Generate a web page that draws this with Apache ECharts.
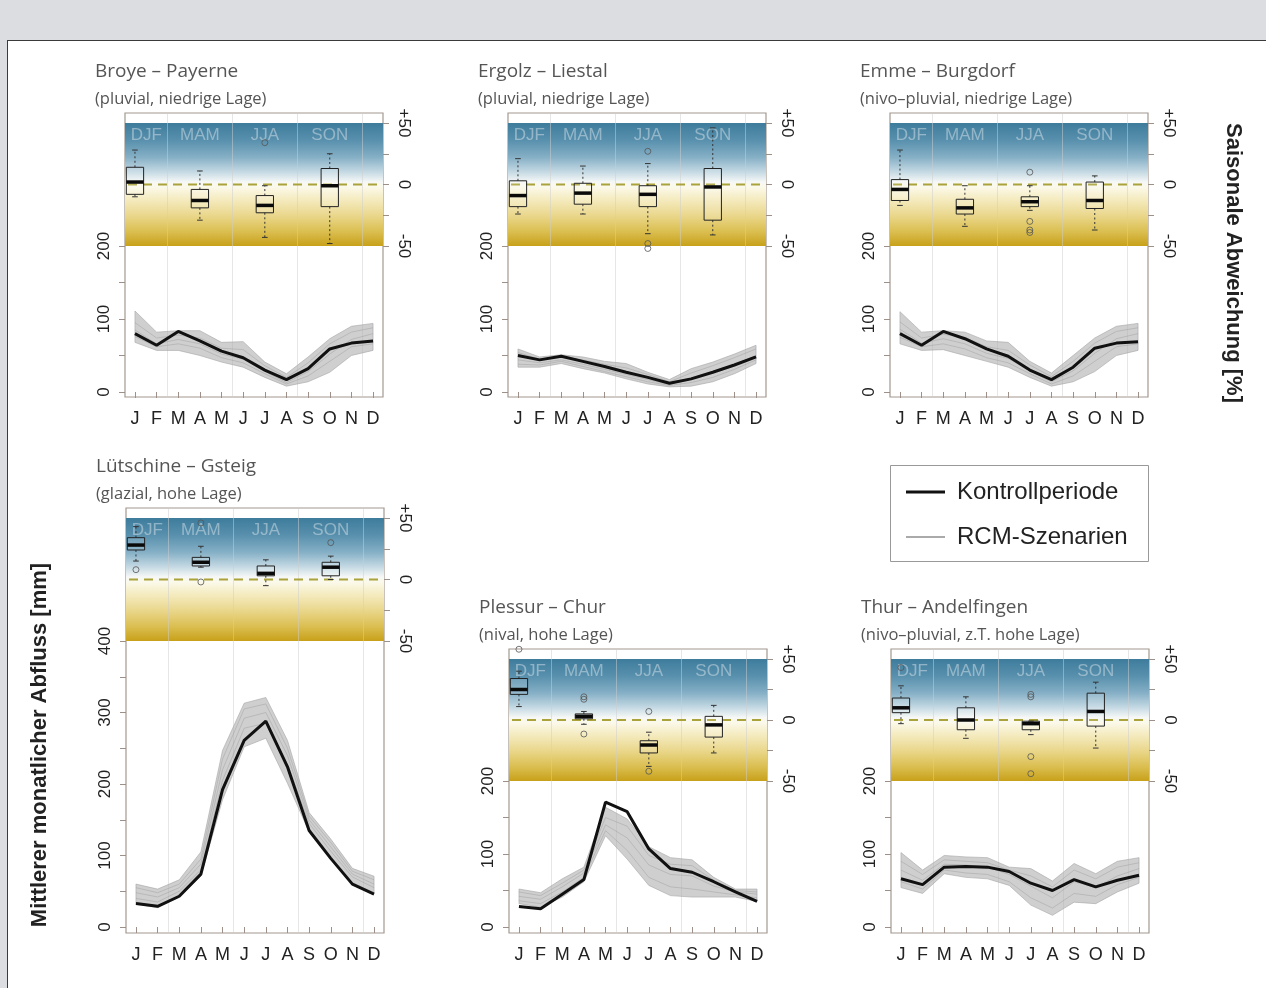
<!DOCTYPE html>
<html><head><meta charset="utf-8">
<script src="https://cdn.jsdelivr.net/npm/echarts@6/dist/echarts.min.js"></script>
<style>
html,body{margin:0;padding:0;background:#dcdde0;width:1266px;height:988px;overflow:hidden;}
#panel{position:absolute;left:7px;top:40px;width:1265px;height:950px;background:#fff;border-left:1.5px solid #3a3a3a;border-top:1.5px solid #3a3a3a;}
#chart{position:absolute;left:0;top:0;width:1266px;height:988px;}
</style></head><body><div id="panel"></div><div id="chart"></div>
<script>
// ---------- categories / ticks ----------
const months = ['J','F','M','A','M','J','J','A','S','O','N','D'];
const monthNum = [1,2,3,4,5,6,7,8,9,10,11,12];
const seasons = ['DJF','MAM','JJA','SON'];
const seasonMid = [1.52, 4, 7, 10];
const seasonBounds = [2.5, 5.5, 8.5, 11.5];
const boxMonths = [1, 4, 7, 10];
const mmTicks200 = [0,50,100,150,200];
const mmLabels200 = [0,100,200];
const mmTicks400 = [0,50,100,150,200,250,300,350,400];
const mmLabels400 = [0,100,200,300,400];
const pctTicks = [-50,-25,0,25,50];
const pctLabels = [-50,0,50];

// ---------- station titles ----------
const titles = ['Broye – Payerne','Ergolz – Liestal','Emme – Burgdorf','Lütschine – Gsteig','Plessur – Chur','Thur – Andelfingen'];
const subtitles = ['(pluvial, niedrige Lage)','(pluvial, niedrige Lage)','(nivo–pluvial, niedrige Lage)','(glazial, hohe Lage)','(nival, hohe Lage)','(nivo–pluvial, z.T. hohe Lage)'];

// ---------- monthly runoff [mm] ----------
const ctrlBroye = [80,64,83,70,56,47,30,17,32,59,67,70];
const loBroye   = [68,57,57,50,41,34,20,8,14,27,50,57];
const hiBroye   = [111,82,84,84,68,69,41,25,48,73,90,94];
const scenBroye = [[95,74,78,74,60,58,36,20,40,66,82,88],[85,66,72,66,52,45,28,13,28,52,72,80],[76,62,66,60,47,40,25,11,22,42,62,66]];

const ctrlErgolz = [50,44,49,42,35,27,20,12,18,27,37,48];
const loErgolz   = [34,34,39,32,26,18,11,7,8,14,25,39];
const hiErgolz   = [59,48,51,48,42,39,27,17,32,41,52,64];
const scenErgolz = [[54,45,48,44,38,33,24,14,26,36,47,59],[44,40,44,38,31,24,17,10,19,28,38,50],[38,37,42,35,28,21,14,9,13,20,31,44]];

const ctrlEmme = [80,64,83,73,59,49,30,17,34,60,67,69];
const loEmme   = [66,57,58,50,42,34,20,8,14,28,50,57];
const hiEmme   = [110,82,84,82,70,68,42,26,50,74,90,94];
const scenEmme = [[96,74,79,75,62,57,37,21,42,67,83,88],[86,67,73,66,53,46,29,14,29,53,73,80],[75,62,66,59,47,40,25,11,22,42,62,66]];

const ctrlLuet = [33,29,43,74,192,261,288,224,135,96,60,46];
const loLuet   = [32,27,42,71,178,252,264,201,133,96,62,48];
const hiLuet   = [60,53,66,105,247,313,321,261,160,123,82,71];
const scenLuet = [[55,48,60,95,235,305,312,250,155,118,78,66],[48,42,55,88,220,292,300,240,150,112,74,60],[40,35,50,80,205,278,285,228,145,106,70,55]];

const ctrlPless = [28,25,45,65,171,158,107,80,75,62,48,35];
const loPless   = [32,27,41,62,125,93,57,43,41,41,41,35];
const hiPless   = [52,47,66,82,164,148,110,95,92,68,52,52];
const scenPless = [[48,43,60,78,150,138,98,86,84,64,50,48],[42,38,55,74,140,122,85,72,70,56,48,45],[36,32,48,68,132,105,68,55,52,48,44,40]];

const ctrlThur = [66,58,82,83,82,76,60,50,65,55,64,71];
const loThur   = [54,46,73,68,66,57,30,16,34,32,48,60];
const hiThur   = [102,78,98,96,95,82,80,63,87,73,90,95];
const scenThur = [[90,72,92,90,88,78,70,55,78,66,82,88],[78,64,86,85,82,72,56,40,62,54,70,80],[62,52,78,74,72,62,40,26,46,42,58,68]];

// ---------- seasonal deviation [%]: [low whisker, q1, median, q3, high whisker] per DJF, MAM, JJA, SON ----------
const boxBroye = [[-10,-8,2,14,28],[-29,-19,-13,-4,11],[-43,-23,-17,-9,-1],[-48,-18,-1,13,25]];
const outBroye = [[7,34]];
const boxErgolz = [[-24,-18,-9,3,21],[-24,-16,-7,1,15],[-40,-18,-8,-1,17],[-41,-29,-2,13,46]];
const outErgolz = [[7,27],[7,-48],[7,-52]];
const boxEmme = [[-17,-13,-4,4,28],[-34,-24,-19,-12,-1],[-21,-18,-14,-10,-1],[-37,-19.5,-13,2,7]];
const outEmme = [[7,10],[7,-30],[7,-37],[7,-39]];
const boxLuet = [[15,24,28,34,43],[10,11,14,18,27],[-5,3,5,11,16],[0,3,10,14,19]];
const outLuet = [[1,8],[4,46],[4,-2],[10,30]];
const boxPless = [[11,21,25,34,40],[-3.5,1,3,5,7],[-38,-27,-20.5,-17,-10],[-27,-14,-4,3,12]];
const outPless = [[1,58],[4,19],[4,17],[4,-11.5],[7,7],[7,-42]];
const boxThur = [[-3,6,10,18,28],[-15,-8,0,10,19],[-12,-8,-3,-1,-1],[-23,-5,7,22,31]];
const outThur = [[1,43],[7,21],[7,19],[7,-30],[7,-44]];

// ---------- layout ----------
const X_MIN = 0.54, X_MAX = 12.46, BOX_W = 258;
const FONT = '"Liberation Sans", Arial, sans-serif';
const TFONT = '"Open Sans", "DejaVu Sans", sans-serif';
const panels = [
  {ctrl:ctrlBroye, lo:loBroye, hi:hiBroye, scen:scenBroye, box:boxBroye, out:outBroye, L:125, T:113, yP:123, yM:246, yZ:392, B:397, mmTop:200},
  {ctrl:ctrlErgolz, lo:loErgolz, hi:hiErgolz, scen:scenErgolz, box:boxErgolz, out:outErgolz, L:508, T:113, yP:123, yM:246, yZ:392, B:397, mmTop:200},
  {ctrl:ctrlEmme, lo:loEmme, hi:hiEmme, scen:scenEmme, box:boxEmme, out:outEmme, L:890, T:113, yP:123, yM:246, yZ:392, B:397, mmTop:200},
  {ctrl:ctrlLuet, lo:loLuet, hi:hiLuet, scen:scenLuet, box:boxLuet, out:outLuet, L:126, T:508, yP:518, yM:641, yZ:927, B:933, mmTop:400},
  {ctrl:ctrlPless, lo:loPless, hi:hiPless, scen:scenPless, box:boxPless, out:outPless, L:509, T:649, yP:659, yM:781, yZ:927, B:933, mmTop:200},
  {ctrl:ctrlThur, lo:loThur, hi:hiThur, scen:scenThur, box:boxThur, out:outThur, L:891, T:649, yP:659, yM:781, yZ:927, B:933, mmTop:200}
];

const gradStops = [
  {offset:0, color:'#3e7c9c'},{offset:0.14, color:'#5890ad'},{offset:0.28, color:'#86b0c6'},
  {offset:0.4, color:'#c6dae4'},{offset:0.48, color:'#f6f8f6'},{offset:0.52, color:'#fbf9ea'},
  {offset:0.6, color:'#f6eec8'},{offset:0.74, color:'#ebd991'},{offset:0.88, color:'#dbbf52'},{offset:1, color:'#c8a11a'}
];

const grids = [], xAxes = [], yAxes = [], series = [], graphics = [];
const AX = '#9c9088';

panels.forEach((p, i) => {
  const q = (p.yM - p.yP) / 100;
  p.pctMax = 50 + (p.yP - p.T) / q;
  p.pctMin = -50 - (p.B - p.yM) / q;
  const s = (p.yZ - p.yM) / p.mmTop;
  p.mmMin = -(p.B - p.yZ) / s;
  p.mmMax = p.mmTop + (p.yM - p.T) / s;

  grids.push({left:p.L, top:p.T, width:BOX_W, height:p.B - p.T, show:true, borderColor:'#a39890', borderWidth:1.2, containLabel:false});
  xAxes.push({gridIndex:i, type:'value', min:X_MIN, max:X_MAX,
    axisLine:{show:false}, splitLine:{show:false},
    axisTick:{show:true, customValues:monthNum, length:6, lineStyle:{color:AX, width:1}},
    axisLabel:{customValues:monthNum, formatter:v => months[Math.round(v)-1], fontSize:18, color:'#222', margin:13, fontFamily:FONT}});
  const mmI = yAxes.length;
  yAxes.push({gridIndex:i, type:'value', position:'left', min:p.mmMin, max:p.mmMax,
    axisLine:{show:false}, splitLine:{show:false},
    axisTick:{show:true, customValues:p.mmTop === 400 ? mmTicks400 : mmTicks200, length:6, lineStyle:{color:AX}},
    axisLabel:{customValues:p.mmTop === 400 ? mmLabels400 : mmLabels200, rotate:90, margin:12, fontSize:17, color:'#222', fontFamily:FONT}});
  const pcI = yAxes.length;
  yAxes.push({gridIndex:i, type:'value', position:'right', min:p.pctMin, max:p.pctMax,
    axisLine:{show:false}, splitLine:{show:false},
    axisTick:{show:true, customValues:pctTicks, length:6, lineStyle:{color:AX}},
    axisLabel:{customValues:pctLabels, rotate:-90, margin:12, fontSize:17, color:'#222', fontFamily:FONT, formatter:v => (v > 0 ? '+' : '') + v}});

  // background decoration: gradient band, season separators, zero line, season names
  series.push({type:'custom', xAxisIndex:i, yAxisIndex:pcI, silent:true, z:1, data:[[0,0]],
    renderItem:(params, api) => {
      const a = api.coord([X_MIN, 50]), b = api.coord([X_MAX, -50]);
      const top = api.coord([X_MIN, p.pctMax])[1], bot = api.coord([X_MIN, p.pctMin])[1];
      const ch = [{type:'rect', shape:{x:a[0], y:a[1], width:b[0]-a[0], height:b[1]-a[1]},
        style:{fill:new echarts.graphic.LinearGradient(0,0,0,1,gradStops)}}];
      seasonBounds.forEach(sb => {
        const px = Math.round(api.coord([sb, 0])[0]) + 0.5;
        ch.push({type:'line', shape:{x1:px, y1:top, x2:px, y2:bot}, style:{stroke:'rgba(205,205,205,0.5)', lineWidth:1}});
      });
      const z0 = api.coord([X_MIN, 0]), z1 = api.coord([X_MAX, 0]);
      ch.push({type:'line', shape:{x1:z0[0]+3, y1:z0[1], x2:z1[0]-3, y2:z1[1]}, style:{stroke:'#aaa23a', lineWidth:2, lineDash:[9,6]}});
      seasons.forEach((sn, k) => {
        const c = api.coord([seasonMid[k], 40]);
        ch.push({type:'text', x:c[0], y:c[1], style:{text:sn, fill:'rgba(232,238,242,0.45)', font:'17px ' + FONT, align:'center', verticalAlign:'middle'}});
      });
      return {type:'group', children:ch};
    }});

  // RCM envelope
  series.push({type:'custom', xAxisIndex:i, yAxisIndex:mmI, silent:true, z:2, data:[[0,0]],
    renderItem:(params, api) => {
      const pts = [];
      p.hi.forEach((v, k) => pts.push(api.coord([monthNum[k], v])));
      for (let k = p.lo.length - 1; k >= 0; k--) pts.push(api.coord([monthNum[k], p.lo[k]]));
      return {type:'polygon', shape:{points:pts}, style:{fill:'rgba(175,175,175,0.6)', stroke:'rgba(165,165,165,0.6)', lineWidth:1}};
    }});
  p.scen.forEach(sc => {
    series.push({type:'line', xAxisIndex:i, yAxisIndex:mmI, silent:true, z:3, showSymbol:false, symbol:'none',
      data:sc.map((v, k) => [monthNum[k], v]), lineStyle:{color:'rgba(150,150,150,0.4)', width:1}});
  });
  series.push({type:'line', xAxisIndex:i, yAxisIndex:mmI, silent:true, z:4, showSymbol:false, symbol:'none',
    data:p.ctrl.map((v, k) => [monthNum[k], v]), lineStyle:{color:'#111', width:3}});

  // boxplots
  series.push({type:'custom', xAxisIndex:i, yAxisIndex:pcI, silent:true, z:5,
    data:p.box.map((b, k) => [boxMonths[k]].concat(b)),
    renderItem:(params, api) => {
      const x = api.value(0), lo = api.value(1), q1 = api.value(2), md = api.value(3), q3 = api.value(4), hi = api.value(5);
      const hw = 0.4, cw = 0.13;
      const pTL = api.coord([x - hw, q3]), pBR = api.coord([x + hw, q1]);
      const cx = api.coord([x, 0])[0];
      const yHi = api.coord([x, hi])[1], yLo = api.coord([x, lo])[1], yMd = api.coord([x, md])[1];
      const cl = api.coord([x - cw, 0])[0], cr = api.coord([x + cw, 0])[0];
      const wst = {stroke:'#333', lineWidth:1, lineDash:[2,2.5]};
      return {type:'group', children:[
        {type:'line', shape:{x1:cx, y1:pTL[1], x2:cx, y2:yHi}, style:wst},
        {type:'line', shape:{x1:cx, y1:pBR[1], x2:cx, y2:yLo}, style:wst},
        {type:'line', shape:{x1:cl, y1:yHi, x2:cr, y2:yHi}, style:{stroke:'#333', lineWidth:1}},
        {type:'line', shape:{x1:cl, y1:yLo, x2:cr, y2:yLo}, style:{stroke:'#333', lineWidth:1}},
        {type:'rect', shape:{x:pTL[0], y:pTL[1], width:pBR[0]-pTL[0], height:pBR[1]-pTL[1]}, style:{fill:'rgba(255,255,255,0.12)', stroke:'#222', lineWidth:1}},
        {type:'line', shape:{x1:pTL[0], y1:yMd, x2:pBR[0], y2:yMd}, style:{stroke:'#0a0a0a', lineWidth:3.5}}
      ]};
    }});
  series.push({type:'scatter', xAxisIndex:i, yAxisIndex:pcI, silent:true, z:5, symbol:'circle', symbolSize:6,
    data:p.out, itemStyle:{color:'rgba(255,255,255,0)', borderColor:'#555', borderWidth:1}});

  graphics.push({type:'text', x:p.L - 30, y:p.T - 41, style:{text:titles[i], font:'19px ' + TFONT, fill:'#555', verticalAlign:'middle'}});
  graphics.push({type:'text', x:p.L - 30, y:p.T - 14, style:{text:subtitles[i], font:'16.5px ' + TFONT, fill:'#555', verticalAlign:'middle'}});
});

// axis titles
graphics.push({type:'text', x:40, y:745, rotation:Math.PI/2, style:{text:'Mittlerer monatlicher Abfluss [mm]', font:'bold 22px ' + FONT, fill:'#222', align:'center', verticalAlign:'middle'}});
graphics.push({type:'text', x:1233, y:263, rotation:-Math.PI/2, style:{text:'Saisonale Abweichung [%]', font:'bold 22px ' + FONT, fill:'#222', align:'center', verticalAlign:'middle'}});
// legend
graphics.push({type:'rect', shape:{x:890.5, y:465.5, width:258, height:96}, style:{fill:'#fff', stroke:'#999', lineWidth:1}});
graphics.push({type:'line', shape:{x1:906, y1:492, x2:945, y2:492}, style:{stroke:'#111', lineWidth:3}});
graphics.push({type:'text', x:957, y:492, style:{text:'Kontrollperiode', font:'24px ' + FONT, fill:'#222', verticalAlign:'middle'}});
graphics.push({type:'line', shape:{x1:906, y1:537, x2:945, y2:537}, style:{stroke:'#aaa', lineWidth:2}});
graphics.push({type:'text', x:957, y:537, style:{text:'RCM-Szenarien', font:'24px ' + FONT, fill:'#222', verticalAlign:'middle'}});

const chart = echarts.init(document.getElementById('chart'), null, {renderer:'canvas'});
chart.setOption({animation:false, backgroundColor:'transparent', grid:grids, xAxis:xAxes, yAxis:yAxes, series:series, graphic:graphics});
</script></body></html>
